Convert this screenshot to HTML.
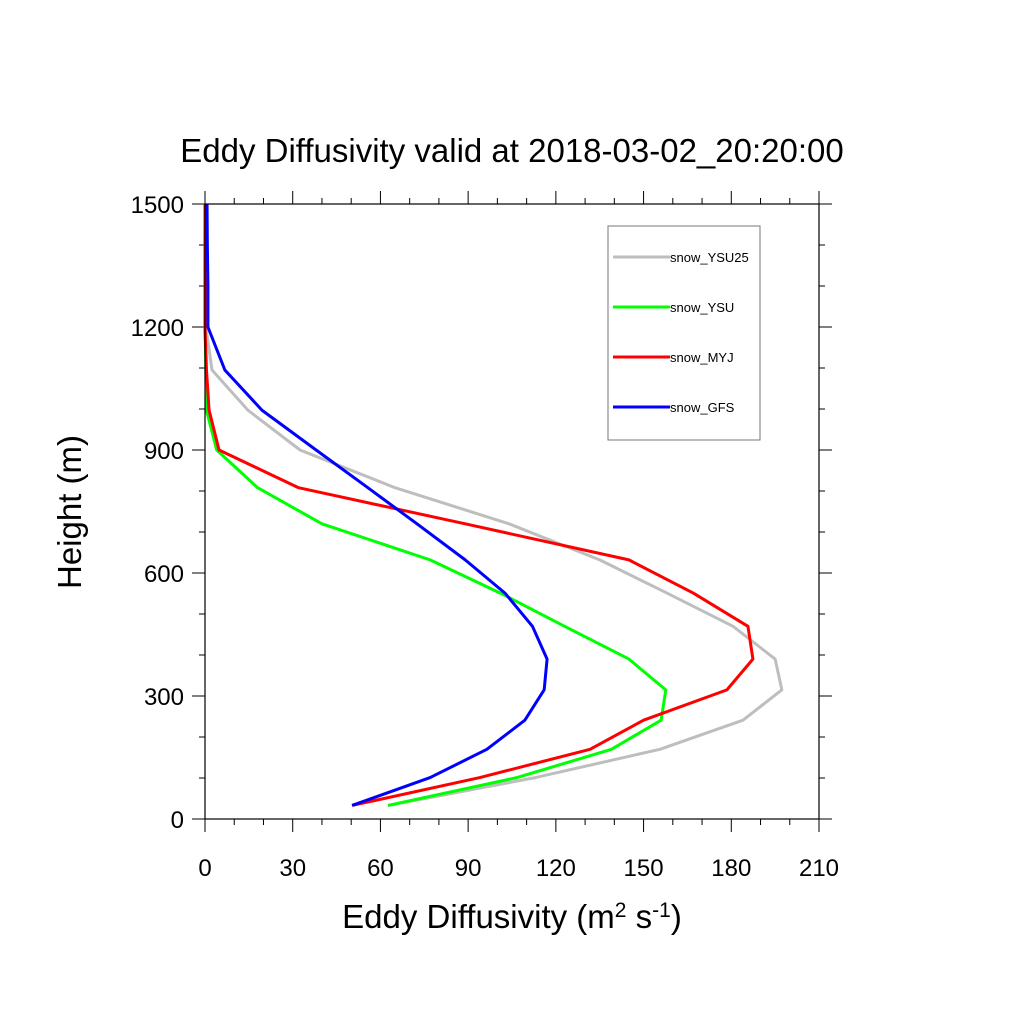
<!DOCTYPE html>
<html><head><meta charset="utf-8"><style>
body{margin:0;background:#fff}
svg{display:block;font-family:"Liberation Sans",sans-serif}
</style></head><body>
<svg id="chart" width="1024" height="1024" viewBox="0 0 1024 1024">
<rect width="1024" height="1024" fill="#fff"/>
<text x="512" y="162" font-size="33" text-anchor="middle">Eddy Diffusivity valid at 2018-03-02_20:20:00</text>
<g id="axes"></g>
<g id="series"></g>
<rect x="205" y="204" width="614" height="615" fill="none" stroke="#000" stroke-width="1.2"/>
<text x="512" y="928" font-size="33" text-anchor="middle">Eddy Diffusivity (m<tspan baseline-shift="super" font-size="21">2</tspan> s<tspan baseline-shift="super" font-size="21">-1</tspan>)</text>
<text transform="translate(81,512) rotate(-90)" font-size="33" text-anchor="middle">Height (m)</text>
<g>
<rect x="608" y="226" width="152" height="214" fill="#fff" stroke="#777" stroke-width="1"/>
<g id="legend-items"></g>
</g>
</svg>
<script>
const heights=[33,101,170,241,315,390,470,551,632,720,808,900,997,1095,1200,1300,1400,1500];
const ysu25=[62.6,113,155.6,184,197.3,195,180.6,158,135,104,65,32.5,14.7,2.4,0.3,0.2,0.2,0.2];
const ysu=[62.6,106.7,139,156,157.6,145,123,101,77,40,18,4,0.5,0.3,0,0,0,0];
const myj=[50.3,94,131.7,150,178.5,187.4,185.7,167,145,89,32,4.8,1.4,0.5,0,0,0,0];
const gfs=[50.3,77,96.4,109.4,116,117,112,102.6,89,72.5,55.7,38,19.5,6.8,1,1,0.8,0.7];
const seriesNames=["snow_YSU25","snow_YSU","snow_MYJ","snow_GFS"];
const seriesColors=["#bebebe","#00ff00","#ff0000","#0000ff"];
const xTicks=[0,30,60,90,120,150,180,210];
const yTicks=[0,300,600,900,1200,1500];
const NS="http://www.w3.org/2000/svg";
const X=v=>205+v*614/210, Y=v=>819-v*615/1500;
function mk(t,a,p){const e=document.createElementNS(NS,t);for(const k in a)e.setAttribute(k,a[k]);p.appendChild(e);return e;}
const ax=document.getElementById('axes');
for(let v=0;v<=210;v+=10){const major=v%30===0,L=major?13:6;
 const t1=mk('line',{x1:X(v),x2:X(v),y1:819,y2:819+L,stroke:'#000'},ax);
 
 const t2=mk('line',{x1:X(v),x2:X(v),y1:204,y2:204-L,stroke:'#000'},ax);
 }
for(let v=0;v<=1500;v+=100){const major=v%300===0,L=major?13:6;
 const t1=mk('line',{x1:205,x2:205-L,y1:Y(v),y2:Y(v),stroke:'#000'},ax);
 
 const t2=mk('line',{x1:819,x2:819+L,y1:Y(v),y2:Y(v),stroke:'#000'},ax);
 }
xTicks.forEach(v=>{const t=mk('text',{x:X(v),y:876,'font-size':24,'text-anchor':'middle'},ax);t.textContent=v;
 });
yTicks.forEach(v=>{const t=mk('text',{x:184,y:Y(v)+9,'font-size':24,'text-anchor':'end'},ax);t.textContent=v;
 });
const sg=document.getElementById('series');
[ysu25,ysu,myj,gfs].forEach((d,i)=>{
 const p=mk('polyline',{points:d.map((v,j)=>X(v)+','+Y(heights[j])).join(' '),fill:'none',stroke:seriesColors[i],'stroke-width':3,'stroke-linejoin':'round'},sg);
 
 });
const lg=document.getElementById('legend-items');
seriesNames.forEach((n,i)=>{const y=257+i*50;
 const l=mk('line',{x1:613,x2:670,y1:y,y2:y,stroke:seriesColors[i],'stroke-width':3},lg);
 
 const t=mk('text',{x:670,y:y+5,'font-size':13},lg);t.textContent=n;
 });
</script>
</body></html>
